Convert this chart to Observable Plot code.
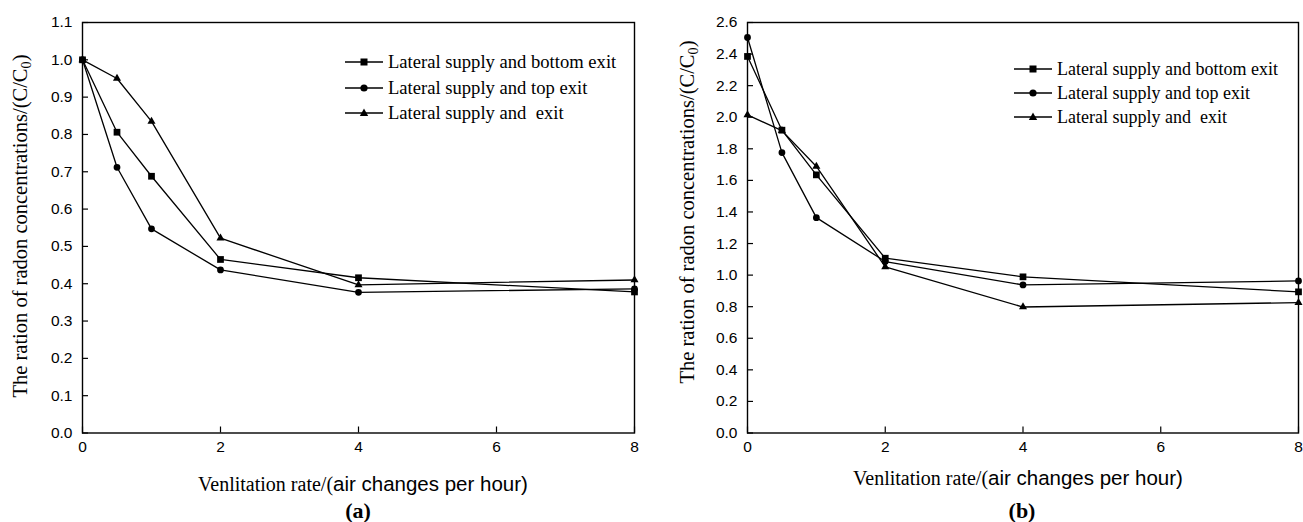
<!DOCTYPE html>
<html>
<head>
<meta charset="utf-8">
<script src="https://cdn.jsdelivr.net/npm/d3@7"></script>
<script src="https://cdn.jsdelivr.net/npm/@observablehq/plot@0.6"></script>
<style>
  html, body { margin: 0; padding: 0; background: #fff; }
  #root { position: relative; width: 1303px; height: 522px; overflow: hidden; background: #fff; }
  .panel { position: absolute; top: 0; }
  .ytitle { position: absolute; white-space: nowrap; font-family: "Liberation Serif", serif; font-size: 20.5px; line-height: 22px; color: #000;
            transform: translate(-50%, -50%) rotate(-90deg); }
  .ytitle sub { font-size: 0.7em; vertical-align: -0.25em; line-height: 0; }
  .xtitle { position: absolute; white-space: nowrap; transform: translateX(-50%); line-height: 18px; color: #000; }
  .xtitle .s { font-family: "Liberation Serif", serif; font-size: 20px; }
  .xtitle .ss { font-family: "Liberation Sans", sans-serif; font-size: 20.5px; }
  .cap { position: absolute; transform: translateX(-50%); font-family: "Liberation Serif", serif; font-weight: bold; font-size: 22px; line-height: 22px; color: #000; }
  .leg { position: absolute; display: flex; align-items: center; height: 20px; font-family: "Liberation Serif", serif; white-space: nowrap; color: #000; }
  .leg svg { display: block; margin-right: 5px; }
</style>
</head>
<body>
<div id="root"></div>
<script>
// ---- data ----
const rate = [0, 0.5, 1, 2, 4, 8];
const seriesNames = ["Lateral supply and bottom exit", "Lateral supply and top exit", "Lateral supply and  exit"];
const seriesSymbols = ["square", "circle", "triangle"];

const aBottom = [1.0, 0.806, 0.688, 0.465, 0.416, 0.378];
const aTop    = [1.0, 0.712, 0.547, 0.437, 0.377, 0.386];
const aSide   = [1.0, 0.950, 0.835, 0.522, 0.397, 0.410];

const bBottom = [2.385, 1.918, 1.635, 1.107, 0.989, 0.894];
const bTop    = [2.505, 1.776, 1.364, 1.086, 0.938, 0.963];
const bSide   = [2.015, 1.915, 1.688, 1.052, 0.798, 0.826];

const xTicks = [0, 2, 4, 6, 8];
const yTicksA = [0, 0.1, 0.2, 0.3, 0.4, 0.5, 0.6, 0.7, 0.8, 0.9, 1.0, 1.1];
const yTicksB = [0, 0.2, 0.4, 0.6, 0.8, 1.0, 1.2, 1.4, 1.6, 1.8, 2.0, 2.2, 2.4, 2.6];

const yTitle = 'The ration of radon concentrations/(C/C<sub>0</sub>)';
const xTitleSerif = "Venlitation rate/(";
const xTitleSans = "air changes per hour)";

function tidy(series) {
  const out = [];
  series.forEach((vals, si) => vals.forEach((v, i) => out.push({rate: rate[i], value: v, series: seriesNames[si]})));
  return out;
}

const symbolR = {square: 3.8, circle: 3.4, triangle: 3.0};

function panel(data, yDomain, yTicks, opts) {
  const marks = [
    Plot.frame({stroke: "black", strokeWidth: 1.4}),
    Plot.axisY(yTicks, {tickSize: 6, dx: 6, tickFormat: () => "", label: null, strokeWidth: 1.2}),
    Plot.axisY(yTicks, {tickSize: 0, tickPadding: 10, tickFormat: d3.format(".1f"), label: null, fontSize: 15.5}),
    Plot.axisX(xTicks, {tickSize: 6, dy: -6, tickFormat: () => "", label: null, strokeWidth: 1.2}),
    Plot.axisX(xTicks, {tickSize: 0, tickPadding: 8, tickFormat: d3.format("d"), label: null, fontSize: 15.5}),
    Plot.line(data, {x: "rate", y: "value", z: "series", stroke: "black", strokeWidth: 1.3})
  ];
  seriesNames.forEach((name, i) => {
    const sym = seriesSymbols[i];
    marks.push(Plot.dot(data, {filter: d => d.series === name, x: "rate", y: "value", symbol: () => sym, fill: "black", stroke: "none", r: symbolR[sym]}));
  });
  return Plot.plot({
    width: opts.width, height: 522,
    marginLeft: opts.marginLeft, marginRight: opts.marginRight, marginTop: 22, marginBottom: 89.5,
    x: {domain: [0, 8]},
    y: {domain: yDomain},
    symbol: {type: "identity"},
    style: {fontFamily: "'Liberation Sans', Arial, sans-serif", fontSize: "15.5px", color: "black", background: "white", overflow: "visible"},
    marks
  });
}

const root = document.getElementById("root");

const pa = panel(tidy([aBottom, aTop, aSide]), [0, 1.1], yTicksA, {width: 651, marginLeft: 82, marginRight: 17});
pa.classList.add("panel"); pa.style.left = "0px";
root.appendChild(pa);

const pb = panel(tidy([bBottom, bTop, bSide]), [0, 2.6], yTicksB, {width: 652, marginLeft: 96, marginRight: 5});
pb.classList.add("panel"); pb.style.left = "651px";
root.appendChild(pb);

function addDiv(cls, html, style) {
  const d = document.createElement("div");
  d.className = cls; d.innerHTML = html;
  Object.assign(d.style, style);
  root.appendChild(d);
  return d;
}

// axis titles and captions
addDiv("ytitle", yTitle, {left: "20px", top: "226px"});
addDiv("ytitle", yTitle, {left: "687px", top: "212px"});
const xt = `<span class="s">${xTitleSerif}</span><span class="ss">${xTitleSans}</span>`;
addDiv("xtitle", xt, {left: "363px", top: "475px"});
addDiv("xtitle", xt, {left: "1018px", top: "469px"});
addDiv("cap", "(a)", {left: "358px", top: "500px"});
addDiv("cap", "(b)", {left: "1022px", top: "500px"});

// legends
function symbolSvg(sym) {
  let m;
  if (sym === "square") m = '<rect x="15.5" y="6.5" width="7" height="7" fill="black"/>';
  else if (sym === "circle") m = '<circle cx="19" cy="10" r="3.6" fill="black"/>';
  else m = '<polygon points="19,5.5 23.2,13 14.8,13" fill="black"/>';
  return `<svg width="38" height="20"><line x1="0" y1="10" x2="38" y2="10" stroke="black" stroke-width="1.3"/>${m}</svg>`;
}
function legend(left, top0, step, fs) {
  seriesNames.forEach((name, i) => {
    addDiv("leg", symbolSvg(seriesSymbols[i]) + `<span style="white-space:pre">${name}</span>`, {left: left + "px", top: (top0 + i * step - 10) + "px", fontSize: fs + "px"});
  });
}
legend(345, 62, 25.5, 18.6);
legend(1014, 69, 24.2, 18);
</script>
</body>
</html>
